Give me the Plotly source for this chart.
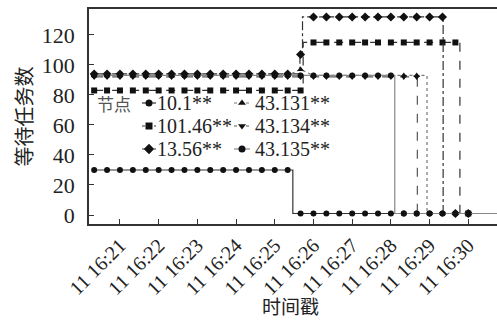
import pandas as pd
import plotly.graph_objects as go

# Sample times (every 20 s) for the waiting-task counts per node
sample_times = pd.date_range("2021-11-11 16:20:20", periods=30, freq="20s")
tail_time = pd.Timestamp("2021-11-11 16:30:50")

n10_1 = [30, 30, 30, 30, 30, 30, 30, 30, 30, 30, 30, 30, 30, 30, 30, 30,
         1, 1, 1, 1, 1, 1, 1, 1, 1, 1, 1, 1, 1, 1]
n101_46 = [83, 83, 83, 83, 83, 83, 83, 83, 83, 83, 83, 83, 83, 83, 83, 83, 83,
           115, 115, 115, 115, 115, 115, 115, 115, 115, 115, 115, 115, 1]
n13_56 = [94, 94, 94, 94, 94, 94, 94, 94, 94, 94, 94, 94, 94, 94, 94, 94, 107,
          132, 132, 132, 132, 132, 132, 132, 132, 132, 132, 132, 1, 1]
n43_131 = [93, 93, 93, 93, 93, 93, 93, 93, 93, 93, 93, 93, 93, 93, 93, 93, 97,
           93, 93, 93, 93, 93, 93, 93, 93, 93, 1, 1, 1, 1]
n43_134 = [92, 92, 92, 92, 92, 92, 92, 92, 92, 92, 92, 92, 92, 92, 92, 92, 92,
           92, 92, 92, 92, 92, 92, 92, 92, 92, 1, 1, 1, 1]
n43_135 = [93, 93, 93, 93, 93, 93, 93, 93, 93, 93, 93, 93, 93, 93, 93, 93, 93,
           93, 93, 93, 93, 93, 93, 93, 1, 1, 1, 1, 1, 1]

# Moments at which a count jumps between two samples
steps = {
    "10.1**": ["2021-11-11 16:25:28"],
    "101.46**": ["2021-11-11 16:25:44", "2021-11-11 16:29:47"],
    "13.56**": ["2021-11-11 16:25:39", "2021-11-11 16:25:43", "2021-11-11 16:29:21"],
    "43.131**": ["2021-11-11 16:28:56"],
    "43.134**": ["2021-11-11 16:28:41"],
    "43.135**": ["2021-11-11 16:28:06"],
}

# name, values, marker, dash, line colour, marker size, legend column, legend row
series = [
    ("10.1**", n10_1, "circle", "solid", "#333333", 6, 0, 0),
    ("101.46**", n101_46, "square", "dash", "#333333", 6, 0, 1),
    ("13.56**", n13_56, "diamond", "dashdot", "#333333", 7, 0, 2),
    ("43.131**", n43_131, "triangle-up", "dot", "#777777", 6, 1, 0),
    ("43.134**", n43_134, "triangle-down", "dash", "#555555", 6, 1, 1),
    ("43.135**", n43_135, "circle", "solid", "#888888", 6, 1, 2),
]


def step_path(times, vals, jumps):
    jumps = [pd.Timestamp(j) for j in jumps]
    xs, ys = [], []
    for i, (t, v) in enumerate(zip(times, vals)):
        xs.append(t)
        ys.append(v)
        if i + 1 < len(times):
            for j in jumps:
                if t < j < times[i + 1]:
                    xs += [j, j]
                    ys += [v, vals[i + 1]]
    xs.append(tail_time)
    ys.append(vals[-1])
    return xs, ys


# Legend geometry, in pixels of the 497x321 canvas
L, T, R, B = 89, 9, 497, 224
leg_cols = [(142, 156, 157), (234, 250, 255)]   # line start, line end, text start
leg_rows = [103, 126, 149]
title_pos = (95, 103)
xtitle_pos = (290, 305)


def px_x(p):
    return (p - L) / (R - L)


def px_y(p):
    return (B - p) / (B - T)


font_main = "Liberation Serif"
cjk = "Noto Sans CJK SC"

fig = go.Figure()
annotations = [
    dict(text="节点", xref="paper", yref="paper",
         x=px_x(title_pos[0]), y=px_y(title_pos[1]),
         xanchor="left", yanchor="middle", showarrow=False,
         font=dict(family=cjk, size=17, color="#555555")),
    dict(text="时间戳", xref="paper", yref="paper",
         x=px_x(xtitle_pos[0]), y=px_y(xtitle_pos[1]),
         xanchor="center", yanchor="middle", showarrow=False,
         font=dict(family=cjk, size=19, color="#222222")),
]

for name, vals, sym, dash, color, size, col, row in series:
    lx, ly = step_path(list(sample_times), vals, steps[name])
    fig.add_trace(go.Scatter(x=lx, y=ly, mode="lines", showlegend=False,
                             line=dict(color=color, width=1.2, dash=dash)))
    fig.add_trace(go.Scatter(x=sample_times, y=vals, mode="markers", showlegend=False,
                             marker=dict(symbol=sym, size=size, color="#111111")))
    # legend key: short line with the marker in its middle
    x0, x1, xt = leg_cols[col]
    yk = leg_rows[row]
    fig.add_trace(go.Scatter(x=[x0, x1], y=[yk, yk], mode="lines", showlegend=False,
                             xaxis="x2", yaxis="y2", hoverinfo="skip",
                             line=dict(color=color, width=1.2, dash="solid" if dash == "solid" else "dot")))
    fig.add_trace(go.Scatter(x=[(x0 + x1) / 2], y=[yk], mode="markers", showlegend=False,
                             xaxis="x2", yaxis="y2", hoverinfo="skip",
                             marker=dict(symbol=sym, size=size + 1, color="#111111")))
    annotations.append(dict(text=name, xref="paper", yref="paper",
                            x=px_x(xt), y=px_y(yk), xanchor="left", yanchor="middle",
                            showarrow=False, xshift=-2,
                            font=dict(family=font_main, size=20, color="#222222")))

fig.update_layout(
    width=497, height=321,
    margin=dict(l=L, r=497 - R, t=T, b=321 - B),
    plot_bgcolor="white", paper_bgcolor="white",
    font=dict(family=font_main, size=20, color="#222222"),
    showlegend=False,
    annotations=annotations,
    xaxis=dict(
        range=["2021-11-11 16:20:12", "2021-11-11 16:30:44.5"],
        tickvals=list(pd.date_range("2021-11-11 16:21:00", periods=10, freq="1min")),
        tickformat="%d %H:%M", tickangle=-45,
        tickfont=dict(family=font_main, size=20, color="#222222"),
        ticks="inside", ticklen=5, tickcolor="#333333",
        showline=True, linecolor="#333333", linewidth=1.5, mirror=True,
        showgrid=False, zeroline=False,
    ),
    yaxis=dict(
        range=[-6, 137.3],
        tickvals=[0, 20, 40, 60, 80, 100, 120],
        tickfont=dict(family=font_main, size=22, color="#222222"),
        ticklabelstandoff=8,
        ticks="inside", ticklen=5, tickcolor="#333333",
        showline=True, linecolor="#333333", linewidth=1.5,
        showgrid=False, zeroline=False,
        title=dict(text="等待任务数", font=dict(family=cjk, size=20), standoff=4),
    ),
    xaxis2=dict(overlaying="x", range=[L, R], visible=False, fixedrange=True),
    yaxis2=dict(overlaying="y", range=[B, T], visible=False, fixedrange=True),
)

fig.write_html("out.html")
